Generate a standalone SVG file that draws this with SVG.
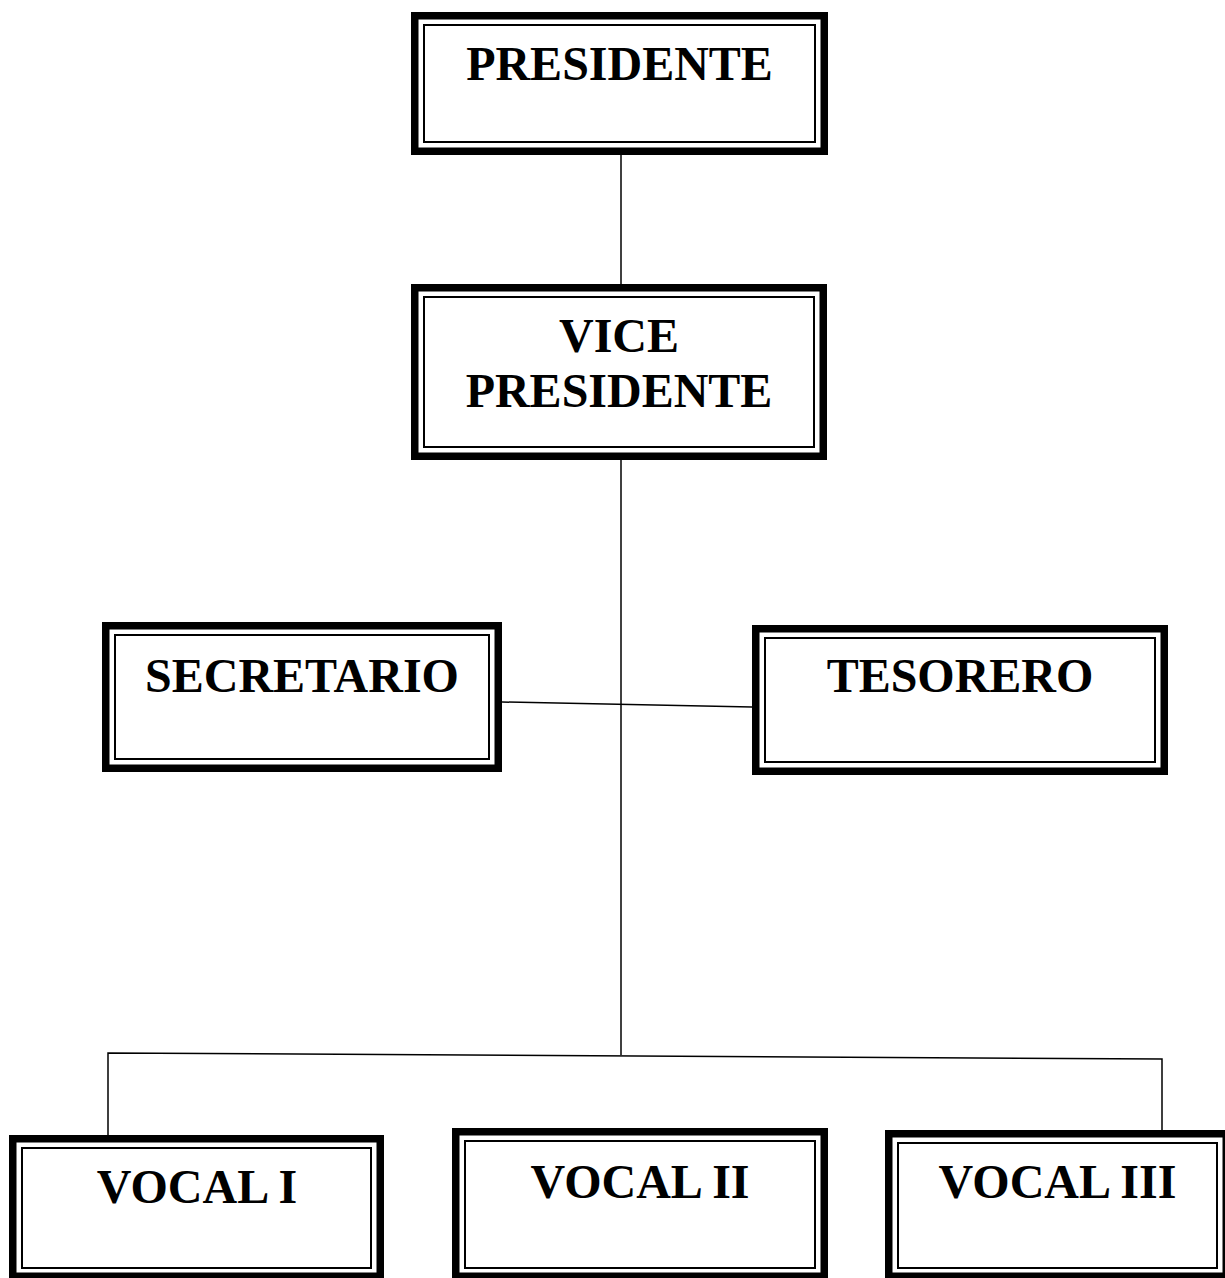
<svg xmlns="http://www.w3.org/2000/svg" width="1225" height="1278" viewBox="0 0 1225 1278">
<style>
.thick{fill:#fff;stroke:#000;stroke-width:7.5}
.thin{fill:none;stroke:#000;stroke-width:2}
.lbl{font-family:"Liberation Serif","Times New Roman",serif;font-weight:bold;font-size:48px;fill:#000;text-anchor:middle}
.conn{stroke:#000;stroke-width:1.5;fill:none}
</style>
<rect width="1225" height="1278" fill="#fff"/>
<g id="connectors">
<line class="conn" x1="621" y1="155" x2="621" y2="284"/>
<line class="conn" x1="621" y1="460" x2="621" y2="1055"/>
<line class="conn" x1="502" y1="702" x2="752" y2="707"/>
<polyline class="conn" points="108,1135 108,1053 1162,1059 1162,1130"/>
</g>
<g id="presidente">
<rect class="thick" x="414.75" y="15.75" width="409.5" height="135.5"/>
<rect class="thin" x="424" y="25" width="391" height="117"/>
<text class="lbl" x="619.5" y="80">PRESIDENTE</text>
</g>
<g id="vicepresidente">
<rect class="thick" x="414.75" y="287.75" width="408.5" height="168.5"/>
<rect class="thin" x="424" y="297" width="390" height="150"/>
<text class="lbl" x="619" y="352">VICE</text>
<text class="lbl" x="619" y="407">PRESIDENTE</text>
</g>
<g id="secretario">
<rect class="thick" x="105.75" y="625.75" width="392.5" height="142.5"/>
<rect class="thin" x="115" y="635" width="374" height="124"/>
<text class="lbl" x="302" y="692">SECRETARIO</text>
</g>
<g id="tesorero">
<rect class="thick" x="755.75" y="628.75" width="408.5" height="142.5"/>
<rect class="thin" x="765" y="638" width="390" height="124"/>
<text class="lbl" x="960" y="692">TESORERO</text>
</g>
<g id="vocal1">
<rect class="thick" x="12.75" y="1138.75" width="367.5" height="137.5"/>
<rect class="thin" x="22" y="1148" width="349" height="120"/>
<text class="lbl" x="197" y="1203">VOCAL I</text>
</g>
<g id="vocal2">
<rect class="thick" x="455.75" y="1131.75" width="368.5" height="144.5"/>
<rect class="thin" x="465" y="1141" width="350" height="127"/>
<text class="lbl" x="640" y="1198">VOCAL II</text>
</g>
<g id="vocal3">
<rect class="thick" x="888.75" y="1133.75" width="337.5" height="142.5"/>
<rect class="thin" x="898" y="1143" width="319" height="125"/>
<text class="lbl" x="1057.5" y="1198">VOCAL III</text>
</g>
</svg>
